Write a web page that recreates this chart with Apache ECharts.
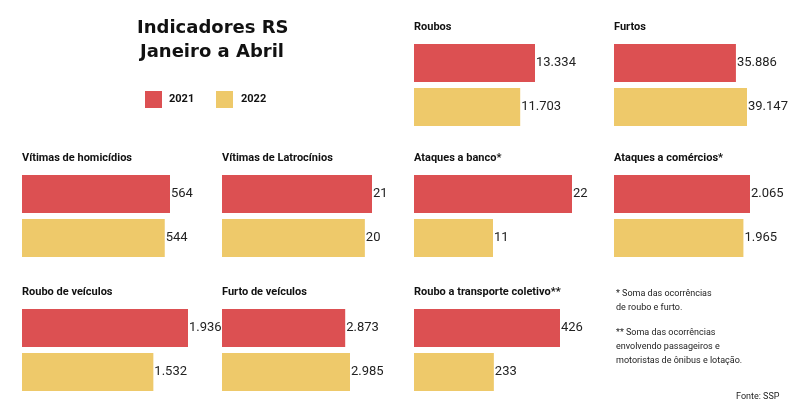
<!DOCTYPE html>
<html><head><meta charset="utf-8">
<script src="https://cdn.jsdelivr.net/npm/echarts@6/dist/echarts.min.js"></script>
<style>body{margin:0;background:#fff}#c{width:800px;height:419px}</style>
</head><body><div id="c"></div>
<script>
const years = ['2021', '2022'];
const panelNames = ['Roubos', 'Furtos', 'Vítimas de homicídios', 'Vítimas de Latrocínios', 'Ataques a banco*', 'Ataques a comércios*', 'Roubo de veículos', 'Furto de veículos', 'Roubo a transporte coletivo**'];
const values2021 = [13334, 35886, 564, 21, 22, 2065, 1936, 2873, 426];
const values2022 = [11703, 39147, 544, 20, 11, 1965, 1532, 2985, 233];

// layout: left, title top, length in px of the longest bar
const layout = [
  [414, 26, 121], [614, 26, 133],
  [22, 157, 148], [222, 157, 150], [414, 157, 158], [614, 157, 136],
  [22, 291, 166], [222, 291, 128], [414, 291, 146]
];
const RED = '#dc5052', YEL = '#eec96a';

function fmt(v){ return v.toLocaleString('de-DE'); }

const grids = [], xAxes = [], yAxes = [], series = [], texts = [];
panelNames.forEach((name, i) => {
  const [l, t, w] = layout[i];
  const mx = Math.max(values2021[i], values2022[i]);
  grids.push({left: l, top: t + 15, width: w, height: 88});
  xAxes.push({gridIndex: i, type: 'value', min: 0, max: mx, show: false});
  yAxes.push({gridIndex: i, type: 'category', data: years, inverse: true, show: false});
  series.push({
    type: 'bar', xAxisIndex: i, yAxisIndex: i, barWidth: 38, barCategoryGap: 0,
    data: [
      {value: values2021[i], itemStyle: {color: RED}},
      {value: values2022[i], itemStyle: {color: YEL}}
    ],
    label: {show: true, position: 'right', distance: 1, color: '#222', fontSize: 13,
      fontFamily: 'Roboto', formatter: p => fmt(p.value)},
    silent: true
  });
  texts.push({type: 'text', left: l, top: t - 4, style: {text: name, font: 'bold 11px Roboto', fill: '#111'}});
});

texts.push(
  {type: 'text', left: 137, top: 19, style: {text: 'Indicadores RS', font: 'bold 18px "DejaVu Sans"', fill: '#111'}},
  {type: 'text', left: 140, top: 43, style: {text: 'Janeiro a Abril', font: 'bold 18px "DejaVu Sans"', fill: '#111'}},
  {type: 'rect', left: 145, top: 91, shape: {width: 17, height: 17}, style: {fill: RED}},
  {type: 'text', left: 169, top: 94, style: {text: '2021', font: 'bold 11px Roboto', fill: '#111'}},
  {type: 'rect', left: 216, top: 91, shape: {width: 17, height: 17}, style: {fill: YEL}},
  {type: 'text', left: 241, top: 94, style: {text: '2022', font: 'bold 11px Roboto', fill: '#111'}},
  {type: 'text', left: 616, top: 287, style: {text: '* Soma das ocorrências\nde roubo e furto.', font: '9px Roboto', lineHeight: 14, fill: '#222'}},
  {type: 'text', left: 616, top: 326, style: {text: '** Soma das ocorrências\nenvolvendo passageiros e\nmotoristas de ônibus e lotação.', font: '9px Roboto', lineHeight: 14, fill: '#222'}},
  {type: 'text', left: 736, top: 392, style: {text: 'Fonte: SSP', font: '9px Roboto', fill: '#222'}}
);

const chart = echarts.init(document.getElementById('c'));
chart.setOption({
  animation: false,
  grid: grids, xAxis: xAxes, yAxis: yAxes, series: series,
  graphic: texts
});
</script></body></html>
